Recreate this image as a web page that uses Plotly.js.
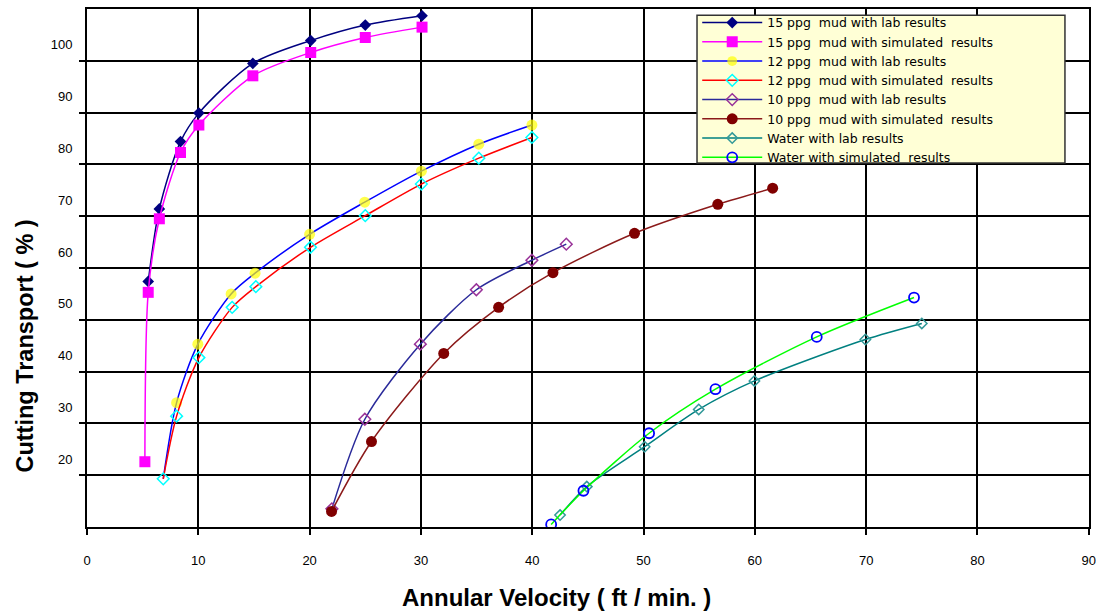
<!DOCTYPE html>
<html>
<head>
<meta charset="utf-8">
<script src="https://cdn.plot.ly/plotly-3.0.1.min.js"></script>
<style>html,body{margin:0;padding:0;background:#fff;}#chart{width:1096px;height:613px;}</style>
</head>
<body>
<div id="chart"></div>
<script>
// Series names
const seriesNames = [
  "15 ppg  mud with lab results",
  "15 ppg  mud with simulated  results",
  "12 ppg  mud with lab results",
  "12 ppg  mud with simulated  results",
  "10 ppg  mud with lab results",
  "10 ppg  mud with simulated  results",
  "Water with lab results",
  "Water with simulated  results"
];

// Axis titles
const xTitle = "Annular Velocity ( ft / min. )";
const yTitle = "Cutting Transport ( % )";

// Annular velocity (ft/min) and cutting transport (%)
const mud15LabX = [5.5, 6.5, 8.4, 10.05, 14.9, 20.1, 25.0, 30.1];
const mud15LabY = [57.4, 71.4, 84.4, 89.9, 99.5, 103.9, 106.9, 108.7];
const mud15SimX = [5.2, 5.5, 6.5, 8.4, 10.05, 14.9, 20.1, 25.0, 30.1];
const mud15SimY = [22.6, 55.3, 69.5, 82.3, 87.6, 97.1, 101.6, 104.5, 106.5];
const mud12LabX = [6.85, 8.05, 9.96, 12.95, 15.1, 20.0, 24.95, 30.04, 35.2, 39.97];
const mud12LabY = [19.3, 34.0, 45.3, 55.0, 59.0, 66.5, 72.7, 78.7, 83.9, 87.6];
const mud12SimX = [6.85, 8.05, 10.05, 13.04, 15.17, 20.08, 25.0, 30.04, 35.2, 39.97];
const mud12SimY = [19.3, 31.4, 42.7, 52.4, 56.4, 64.0, 70.1, 76.2, 81.2, 85.2];
const mud10LabX = [22.0, 24.96, 29.95, 34.98, 39.97, 43.06];
const mud10LabY = [13.5, 30.8, 45.3, 55.8, 61.5, 64.6];
const mud10SimX = [21.97, 25.56, 32.05, 36.98, 41.86, 49.19, 56.67, 61.6];
const mud10SimY = [13.0, 26.5, 43.5, 52.4, 59.1, 66.7, 72.3, 75.4];
const waterLabX = [42.5, 44.9, 50.1, 54.96, 59.96, 69.93, 75.0];
const waterLabY = [12.3, 17.8, 25.5, 32.7, 38.2, 46.2, 49.3];
const waterSimX = [41.7, 44.6, 50.5, 56.46, 65.56, 74.3];
const waterSimY = [10.5, 17.0, 28.1, 36.6, 46.7, 54.3];

// Axis ticks
const xTickVals = [0, 10, 20, 30, 40, 50, 60, 70, 80, 90];
const yTickVals = [20, 30, 40, 50, 60, 70, 80, 90, 100];

function tr(name, x, y, lineColor, marker) {
  return {
    type: "scatter", mode: "lines+markers", name: name, x: x, y: y,
    line: {color: lineColor, width: 1.5, shape: "spline", smoothing: 0.8},
    marker: marker
  };
}

const data = [
  tr(seriesNames[0], mud15LabX, mud15LabY, "#000080",
     {symbol: "diamond", size: 9, color: "#000080", line: {width: 0}}),
  tr(seriesNames[1], mud15SimX, mud15SimY, "#ff00ff",
     {symbol: "square", size: 11, color: "#ff00ff", line: {width: 0}}),
  tr(seriesNames[2], mud12LabX, mud12LabY, "#0000ff",
     {symbol: "circle", size: mud12LabX.map((v, i) => i === 0 ? 0 : 11), color: "#ffff00", line: {width: 0}}),
  tr(seriesNames[3], mud12SimX, mud12SimY, "#ff0000",
     {symbol: "diamond-open", size: 9, color: "#00ffff", line: {width: 1.5}}),
  tr(seriesNames[4], mud10LabX, mud10LabY, "#2a2a9a",
     {symbol: "diamond-open", size: 9, color: "#993399", line: {width: 1.5}}),
  tr(seriesNames[5], mud10SimX, mud10SimY, "#8b1a1a",
     {symbol: "circle", size: 11, color: "#800000", line: {width: 0}}),
  tr(seriesNames[6], waterLabX, waterLabY, "#008080",
     {symbol: "diamond-open", size: 8, color: "#339999", line: {width: 1.5}}),
  tr(seriesNames[7], waterSimX, waterSimY, "#00ff00",
     {symbol: "circle-open", size: 10, color: "#0000ff", line: {width: 1.8}})
];

const tickFont = {family: "Liberation Sans Narrow, Liberation Sans, Arial, sans-serif", size: 13, color: "#000"};
const titleFont = {family: "Liberation Sans, Arial, sans-serif", color: "#000", weight: "bold"};

const layout = {
  width: 1096, height: 613,
  margin: {l: 87, r: 7, t: 9, b: 86},
  paper_bgcolor: "#ffffff", plot_bgcolor: "#ffffff",
  showlegend: true,
  xaxis: {
    range: [0, 90.02], tickvals: xTickVals, ticktext: xTickVals.map(String),
    showgrid: true, gridcolor: "#000", gridwidth: 2,
    showline: true, linecolor: "#000", linewidth: 2, mirror: true,
    ticks: "outside", ticklen: 6, tickwidth: 2, tickcolor: "#000",
    ticklabelstandoff: 14, ticklabeloverflow: "allow",
    zeroline: false, tickfont: tickFont
  },
  yaxis: {
    range: [10, 110], tickvals: yTickVals, ticktext: yTickVals.map(String),
    showgrid: true, gridcolor: "#000", gridwidth: 2,
    showline: true, linecolor: "#000", linewidth: 2, mirror: true,
    ticks: "outside", ticklen: 6, tickwidth: 2, tickcolor: "#000",
    ticklabelshift: -16, ticklabelstandoff: 4,
    zeroline: false, tickfont: tickFont
  },
  annotations: [
    {text: xTitle, xref: "paper", yref: "paper", x: 0.469, y: -0.137,
     xanchor: "center", yanchor: "middle", showarrow: false,
     font: Object.assign({size: 24}, titleFont)},
    {text: yTitle, xref: "paper", yref: "paper", x: -0.062, y: 0.35,
     xanchor: "center", yanchor: "middle", showarrow: false, textangle: -90,
     font: Object.assign({size: 23.5}, titleFont)}
  ],
  shapes: [
    {type: "rect", xref: "paper", yref: "paper", x0: 0.6088, x1: 0.976, y0: 0.7027, y1: 0.988,
     fillcolor: "rgb(255,255,214)", line: {color: "#333", width: 1.5}, layer: "above"}
  ],
  legend: {
    x: 0.609, y: 1.002, xanchor: "left", yanchor: "top",
    bgcolor: "rgba(0,0,0,0)", borderwidth: 0,
    font: {family: "DejaVu Sans, Liberation Sans, Arial, sans-serif", size: 12.5, color: "#000"},
    tracegroupgap: 0, itemwidth: 60,
    traceorder: "normal"
  }
};

Plotly.newPlot("chart", data, layout, {displayModeBar: false, staticPlot: true});
</script>
</body>
</html>
